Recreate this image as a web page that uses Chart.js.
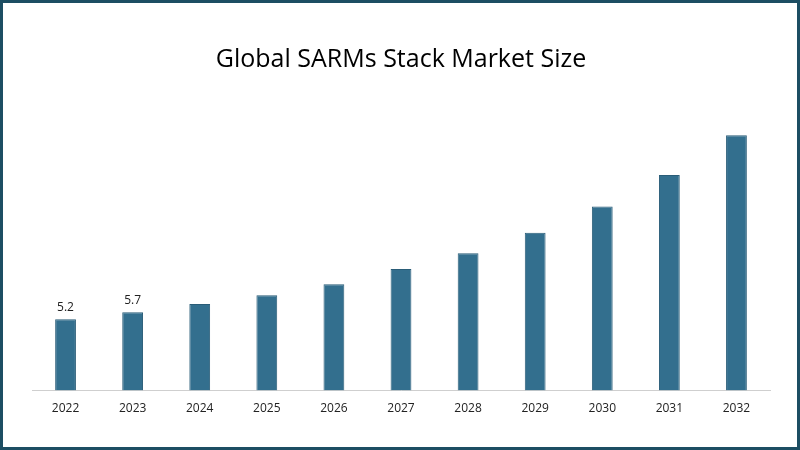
<!DOCTYPE html>
<html>
<head>
<meta charset="utf-8">
<script src="https://cdn.jsdelivr.net/npm/chart.js@4"></script>
<style>
  html, body { margin: 0; padding: 0; background: #fff; }
  #wrap { width: 794px; height: 444px; border: 3px solid #1d4e63; position: relative; }
</style>
</head>
<body>
<div id="wrap"><canvas id="chart" width="794" height="444"></canvas></div>
<script>
const years = ["2022", "2023", "2024", "2025", "2026", "2027", "2028", "2029", "2030", "2031", "2032"];
const marketSize = [5.2, 5.7, 6.3, 6.95, 7.75, 8.85, 10.0, 11.5, 13.4, 15.7, 18.6];
const shownLabels = ["5.2", "5.7"];

const labelPlugin = {
  id: "firstLabels",
  afterDatasetsDraw(chart) {
    const ctx = chart.ctx;
    const meta = chart.getDatasetMeta(0);
    ctx.save();
    ctx.font = "12px 'Open Sans', sans-serif";
    ctx.fillStyle = "#222";
    ctx.textAlign = "center";
    shownLabels.forEach((t, i) => {
      const bar = meta.data[i];
      ctx.fillText(t, bar.x, bar.y - 8);
    });
    ctx.restore();
  },
};

new Chart(document.querySelector("#chart").getContext("2d"), {
  type: "bar",
  data: {
    labels: years,
    datasets: [{
      data: marketSize,
      backgroundColor: "#336f8e",
      borderColor: "#2a5d78",
      borderWidth: 1,
      categoryPercentage: 1,
      barPercentage: 0.31,
    }],
  },
  options: {
    responsive: false,
    animation: false,
    layout: { padding: { left: 29, right: 27, top: 10, bottom: 28 } },
    plugins: {
      legend: { display: false },
      tooltip: { enabled: false },
      title: {
        display: true,
        text: "Global SARMs Stack Market Size",
        color: "#000",
        font: { family: "'Open Sans', sans-serif", size: 25, weight: "normal" },
        padding: { top: 32, bottom: 41 },
      },
    },
    scales: {
      x: {
        grid: { display: false },
        border: { color: "#cfcfcf" },
        ticks: { color: "#222", font: { family: "'Open Sans', sans-serif", size: 12 } },
      },
      y: { display: false, min: 0, max: 20 },
    },
  },
  plugins: [labelPlugin],
});
</script>
</body>
</html>
